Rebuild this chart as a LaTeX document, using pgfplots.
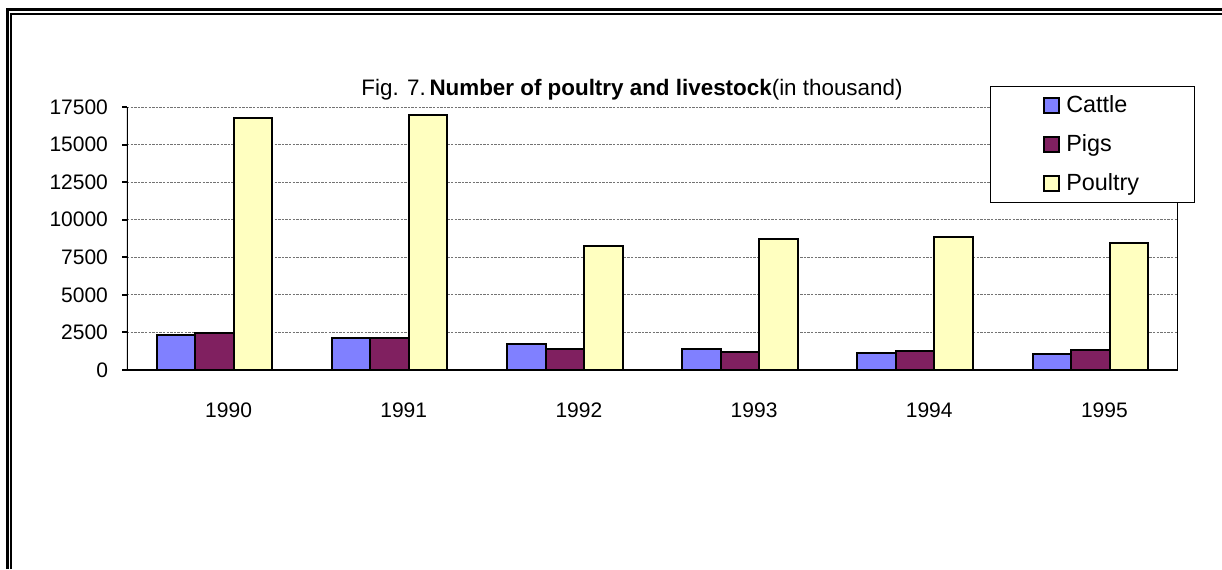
\documentclass[border=0pt]{standalone}
\usepackage{pgfplots}
\pgfplotsset{compat=1.18}
\usepackage{fontspec}
\setmainfont{Liberation Sans}

\definecolor{cattle}{HTML}{8080FF}
\definecolor{pigs}{HTML}{802060}
\definecolor{poultry}{HTML}{FFFFC0}

\begin{document}
\begin{tikzpicture}
% page = 1222 x 569 px, 1 px = 0.5pt
\path[use as bounding box] (0,0) rectangle (611pt,284.5pt);
% double frame (top and left visible)
\draw[line width=1.5pt] (3.75pt,0) -- (3.75pt,279.5pt) -- (611pt,279.5pt);
\draw[line width=1pt] (5.5pt,0) -- (5.5pt,277.5pt) -- (611pt,277.5pt);

\node[font=\fontsize{11.2}{13}\selectfont] at (316pt,239.5pt)
  {Fig. 7.\,\textbf{Number of poultry and livestock}(in thousand)};

\begin{axis}[
    at={(63.5pt,99.5pt)}, anchor=south west,
    scale only axis,
    width=525.5pt, height=131.5pt,
    ybar=0pt, bar width=19.25pt,
    xmin=-0.5, xmax=5.5,
    ymin=0, ymax=17500,
    xtick={0,1,2,3,4,5},
    xticklabels={1990,1991,1992,1993,1994,1995},
    ytick={0,2500,5000,7500,10000,12500,15000,17500},
    scaled y ticks=false,
    /pgf/number format/assume math mode=true,
    yticklabel={\pgfmathprintnumber[fixed,1000 sep={}]{\tick}},
    tick label style={font=\fontsize{10.5}{12}\selectfont},
    xticklabel style={xshift=7pt, yshift=-10.5pt},
    yticklabel style={xshift=-3.5pt},
    xtick style={draw=none},
    ytick style={black, line width=1pt},
    ytick pos=left,
    tick align=outside,
    major tick length=2.5pt,
    axis line style={draw=none},
    ymajorgrids,
    grid style={dash pattern=on 1.2pt off 0.6pt, gray!90!black, line width=0.4pt},
    legend style={
        at={(0.8211,1.0798)}, anchor=north west,
        draw=black, line width=0.5pt,
        font=\fontsize{11.7}{13}\selectfont,
        inner xsep=26.5pt, inner ysep=3.5pt,
        row sep=7.5pt, column sep=2pt,
        nodes={inner sep=1pt, anchor=base west},
    },
    legend cell align=left,
    legend image code/.code={
        \draw[#1, line width=0.9pt] (0pt,-0.3pt) rectangle (7.5pt,7.2pt);
    },
]
\addplot[fill=cattle, draw=black, line width=1pt]
    coordinates {(0,2330) (1,2150) (2,1730) (3,1400) (4,1150) (5,1050)};
\addplot[fill=pigs, draw=black, line width=1pt]
    coordinates {(0,2440) (1,2150) (2,1380) (3,1220) (4,1250) (5,1300)};
\addplot[fill=poultry, draw=black, line width=1pt]
    coordinates {(0,16770) (1,16970) (2,8250) (3,8720) (4,8850) (5,8450)};
\legend{Cattle,Pigs,Poultry}
\draw[line width=1pt] (rel axis cs:0,1) -- (rel axis cs:0,0) -- (rel axis cs:1,0);
\draw[line width=0.6pt] (rel axis cs:1,0) -- (rel axis cs:1,1);
\end{axis}
\end{tikzpicture}
\end{document}
